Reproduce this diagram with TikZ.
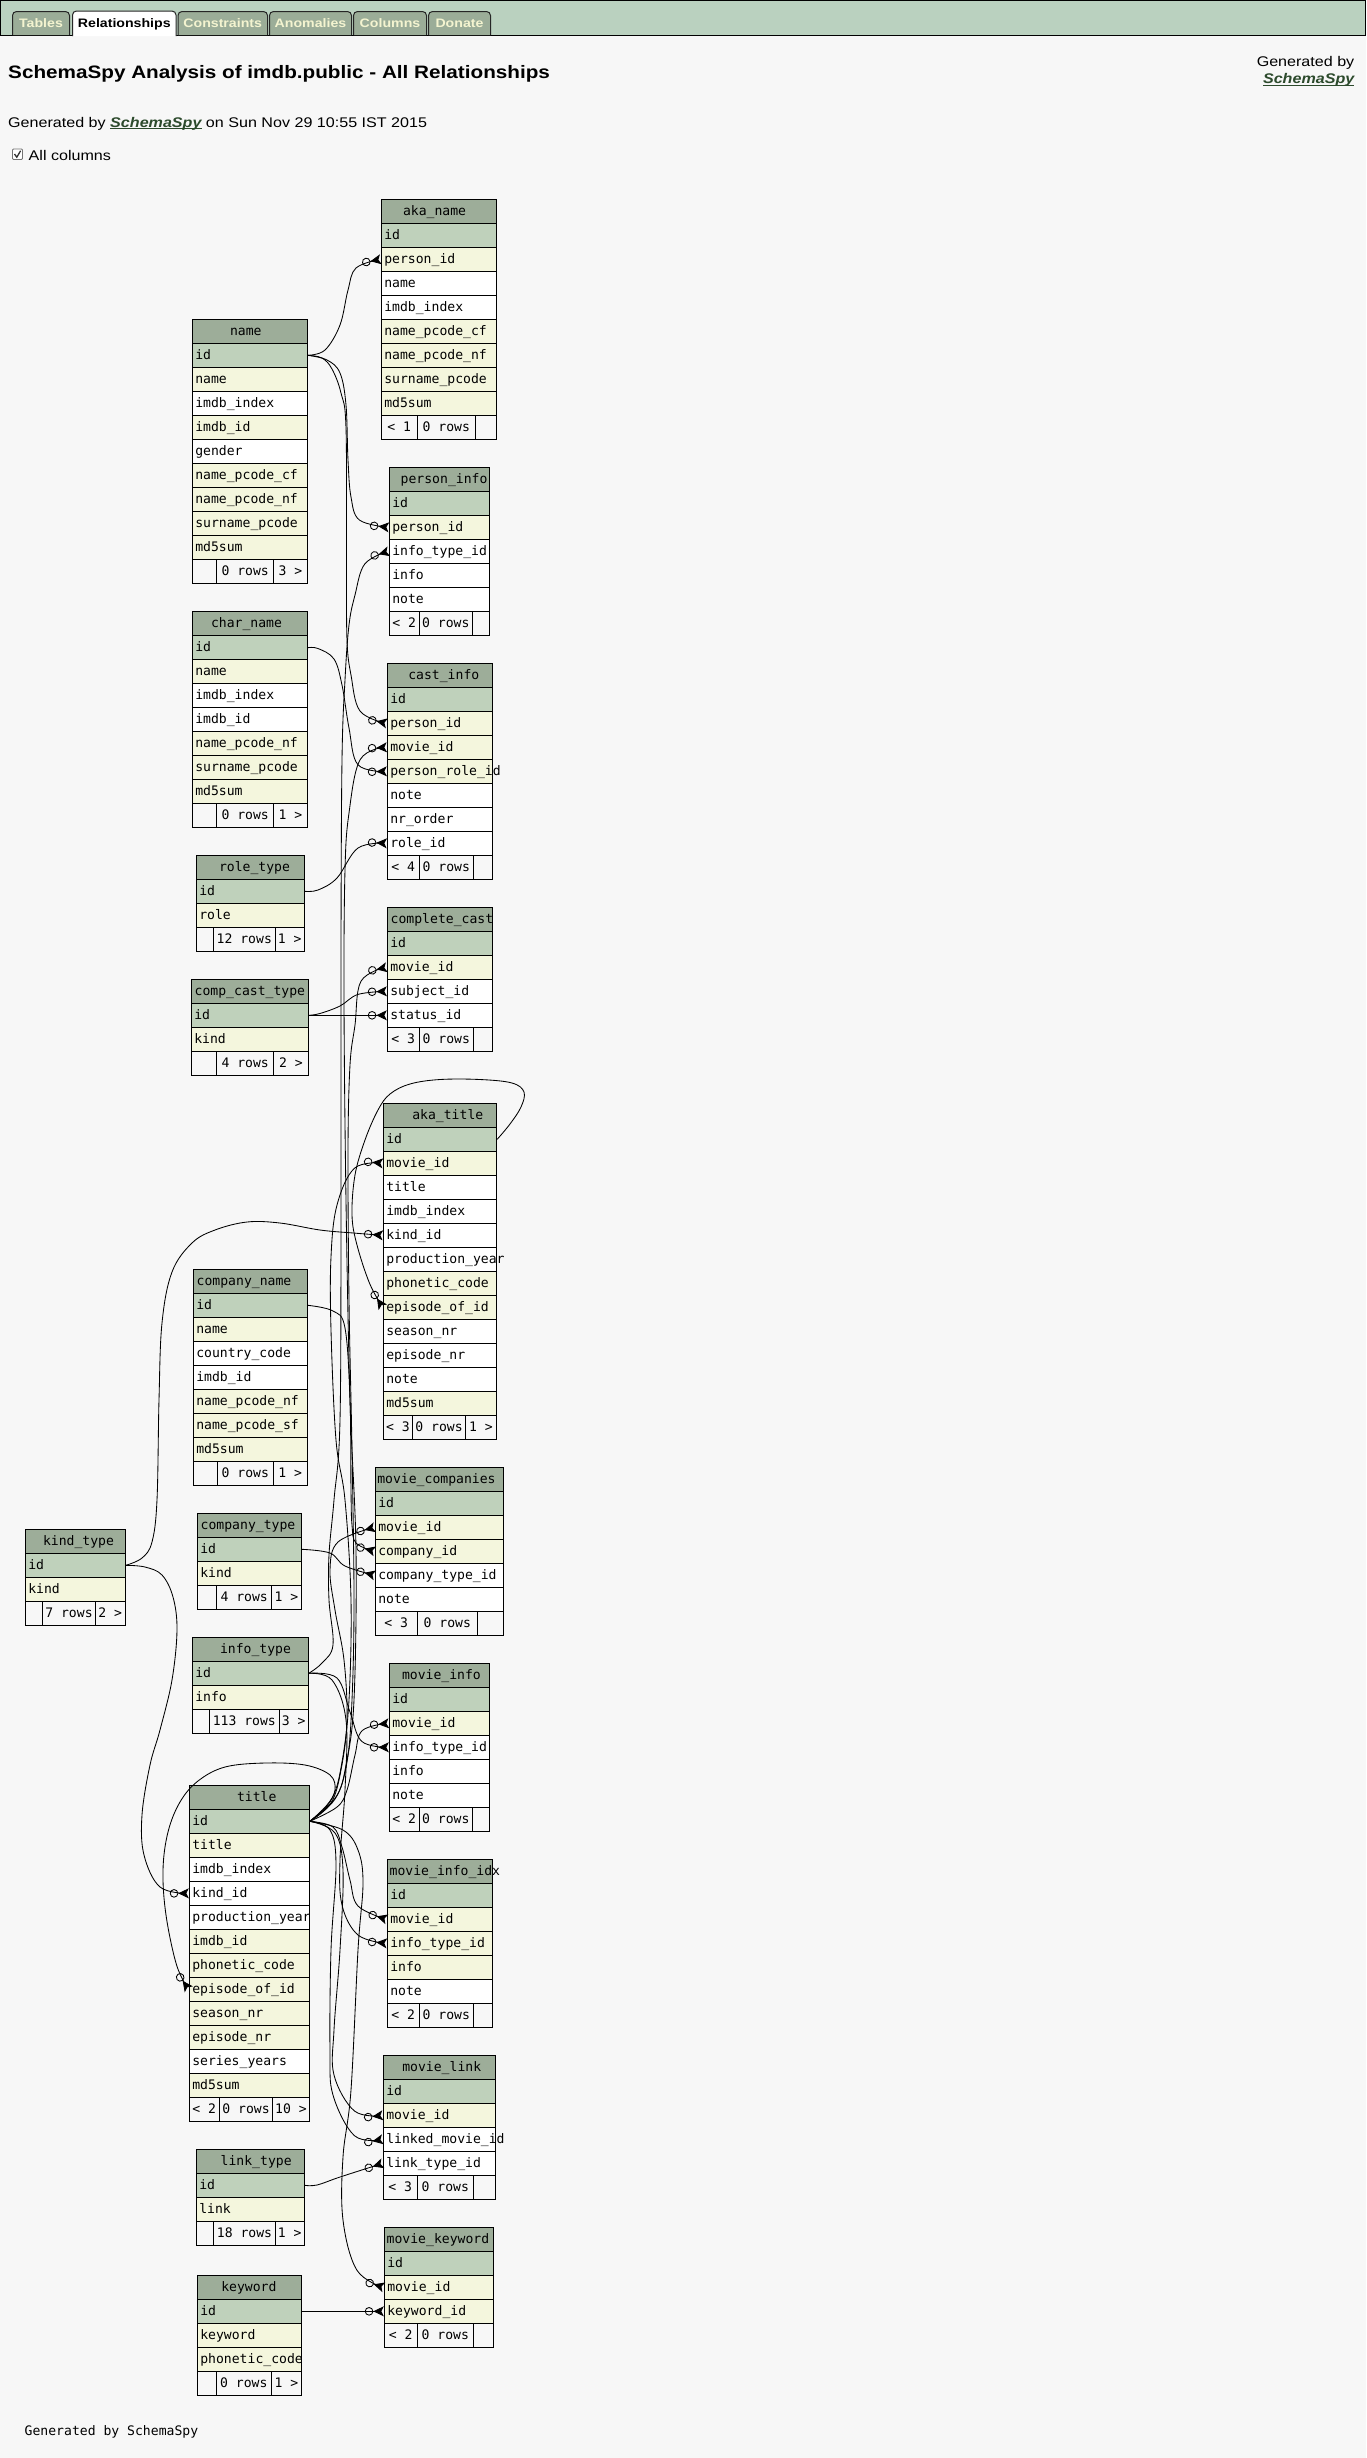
\documentclass[tikz,border=0pt]{standalone}
\usepackage{fontspec}
\setmainfont{Liberation Sans}[FakeStretch=1.15]
\newfontfamily\tblfont{DejaVu Sans Mono}
\usetikzlibrary{arrows.meta}

\definecolor{pagebg}{HTML}{F7F7F7}
\definecolor{barbg}{HTML}{BAD1BF}
\definecolor{tabbg}{HTML}{9BAD98}
\definecolor{tabtext}{HTML}{F4F4D0}
\definecolor{hdrbg}{HTML}{9DAD99}
\definecolor{pkbg}{HTML}{BFD1BB}
\definecolor{fkbg}{HTML}{F4F6DD}
\definecolor{plainbg}{HTML}{FFFFFF}
\definecolor{linkgreen}{HTML}{2C4A2C}

% underlined bold-italic link text
\newcommand\ulink[1]{{\color{linkgreen}\bfseries\itshape\setbox0=\hbox{#1}\rlap{\rule[-2.2pt]{\wd0}{1pt}}\box0}}

\tikzset{
  cell/.style={draw=black, line width=1pt, inner sep=0pt, minimum height=24pt,
    text height=10pt, text depth=2pt, font=\tblfont\fontsize{13.1pt}{15pt}\selectfont},
  rel/.style={line width=0.85pt, black,
    -{Circle[open,length=8.5pt,width=8.5pt] Stealth[reversed,length=10.5pt,width=10pt,inset=2.5pt]}},
  tabshape/.style={draw=black!85, line width=1pt, fill=tabbg, rounded corners=4pt},
  tablabel/.style={anchor=base, inner sep=0pt, font=\fontsize{12.3pt}{14pt}\selectfont\bfseries, text=tabtext},
  pagetext/.style={inner sep=0pt, font=\fontsize{14pt}{17pt}\selectfont},
}

% table: key, left, top, width, header text offset, header, rows (key/colour/text)
\newcommand\dbtable[7]{%
  \node[cell, fill=hdrbg, minimum width=#4pt] (#1) at ({#2+#4/2},{#3+12})
    {\makebox[#4pt][l]{\hspace{#5pt}#6}};
  \foreach \rk/\rc/\rt [count=\ri] in {#7} {
    \node[cell, fill=\rc, minimum width=#4pt] (#1-\rk) at ({#2+#4/2},{#3+12+24*\ri})
      {\makebox[#4pt][l]{\hspace{3pt}\rt}};
  }%
}
% footer row: key, left, top, right, split 1, split 2, three texts
\newcommand\dbfoot[9]{%
  \node[cell, minimum width={(#5-#2)*1pt}] (#1-fa) at ({(#2+#5)/2},{#3+12}) {#7};
  \node[cell, minimum width={(#6-#5)*1pt}] (#1-fb) at ({(#5+#6)/2},{#3+12}) {#8};
  \node[cell, minimum width={(#4-#6)*1pt}] (#1-fc) at ({(#6+#4)/2},{#3+12}) {#9};
}

\begin{document}
\begin{tikzpicture}[x=1pt, y=-1pt]
\useasboundingbox (0,0) rectangle (1366,2458);
\fill[pagebg] (0,0) rectangle (1366,2458);

% ---------- navigation bar ----------
\fill[barbg] (0,0) rectangle (1366,35);
\draw[line width=1pt] (0.5,35) -- (0.5,0.5) -- (1365.5,0.5) -- (1365.5,35);
\draw[line width=1pt] (0,35) -- (1366,35);
\path[tabshape] (12.5,35) -- (12.5,11.5) -- (69.5,11.5) -- (69.5,35);
\node[tablabel] (tab-tables) at (41,27.5) {Tables};
\path[tabshape, fill=white] (72.5,36) -- (72.5,11) -- (176,11) -- (176,36);
\node[tablabel, text=black] (tab-rel) at (124.3,27.5) {Relationships};
\path[tabshape] (178,35) -- (178,11.5) -- (267.5,11.5) -- (267.5,35);
\node[tablabel] (tab-con) at (222.7,27.5) {Constraints};
\path[tabshape] (269.5,35) -- (269.5,11.5) -- (351.5,11.5) -- (351.5,35);
\node[tablabel] (tab-ano) at (310.5,27.5) {Anomalies};
\path[tabshape] (353.5,35) -- (353.5,11.5) -- (426.5,11.5) -- (426.5,35);
\node[tablabel] (tab-col) at (390,27.5) {Columns};
\path[tabshape] (428.5,35) -- (428.5,11.5) -- (490.5,11.5) -- (490.5,35);
\node[tablabel] (tab-don) at (459.5,27.5) {Donate};

% ---------- page heading ----------
\node[anchor=base west, inner sep=0pt, font=\fontsize{18pt}{22pt}\selectfont\bfseries]
  (page-title) at (8,78) {SchemaSpy Analysis of imdb.public - All Relationships};
\node[pagetext, anchor=base east] (gen-right) at (1354.5,66) {Generated by};
\node[pagetext, anchor=base east] (gen-right-link) at (1354.5,83.5) {\ulink{SchemaSpy}};
\node[pagetext, anchor=base west] (gen-line) at (8,127)
  {Generated by \ulink{SchemaSpy} on Sun Nov 29 10:55 IST 2015};
\draw[fill=white, draw=black!55, line width=0.8pt, rounded corners=1pt] (12.5,149) rectangle (22.5,159.5);
\draw[line width=1.3pt, black!80] (14.5,154) -- (16.8,157.2) -- (20.6,150.8);
\node[pagetext, anchor=base west] (allcols) at (28.5,160) {All columns};

% ---------- tables ----------
\dbtable{akaname}{381.3}{199.3}{115.4}{21.7}{aka\_name}{id/pkbg/id, pid/fkbg/person\_id, name/plainbg/name, idx/plainbg/imdb\_index, pcf/fkbg/name\_pcode\_cf, pnf/fkbg/name\_pcode\_nf, spc/fkbg/surname\_pcode, md5/fkbg/md5sum}
\dbfoot{akaname}{381.3}{415.3}{496.7}{417.3}{475.3}{< 1}{0 rows}{}

\dbtable{name}{192.3}{319.3}{115}{37.7}{name}{id/pkbg/id, name/fkbg/name, idx/plainbg/imdb\_index, iid/fkbg/imdb\_id, gender/plainbg/gender, pcf/fkbg/name\_pcode\_cf, pnf/fkbg/name\_pcode\_nf, spc/fkbg/surname\_pcode, md5/fkbg/md5sum}
\dbfoot{name}{192.3}{559.3}{307.3}{216.7}{273.7}{}{0 rows}{3 >}

\dbtable{pinfo}{389.3}{467.3}{100}{11.4}{person\_info}{id/pkbg/id, pid/fkbg/person\_id, itid/plainbg/info\_type\_id, info/plainbg/info, note/plainbg/note}
\dbfoot{pinfo}{389.3}{611.3}{489.3}{419.3}{472.3}{< 2}{0 rows}{}

\dbtable{char}{192.3}{611.7}{115}{18.7}{char\_name}{id/pkbg/id, name/fkbg/name, idx/plainbg/imdb\_index, iid/plainbg/imdb\_id, pnf/fkbg/name\_pcode\_nf, spc/fkbg/surname\_pcode, md5/fkbg/md5sum}
\dbfoot{char}{192.3}{803.7}{307.3}{216.7}{273.7}{}{0 rows}{1 >}

\dbtable{cast}{387.3}{663.3}{105}{21}{cast\_info}{id/pkbg/id, pid/fkbg/person\_id, mid/fkbg/movie\_id, prid/fkbg/person\_role\_id, note/plainbg/note, nro/plainbg/nr\_order, rid/plainbg/role\_id}
\dbfoot{cast}{387.3}{855.3}{492.3}{419.3}{473.3}{< 4}{0 rows}{}

\dbtable{rtype}{196.3}{855.3}{108}{22.7}{role\_type}{id/pkbg/id, role/fkbg/role}
\dbfoot{rtype}{196.3}{927.3}{304.3}{213.3}{275.3}{}{12 rows}{1 >}

\dbtable{cc}{387.3}{907.3}{105}{3.4}{complete\_cast}{id/pkbg/id, mid/fkbg/movie\_id, sid/plainbg/subject\_id, stid/plainbg/status\_id}
\dbfoot{cc}{387.3}{1027.3}{492.3}{419.3}{473.3}{< 3}{0 rows}{}

\dbtable{cct}{191.3}{979.3}{117}{3.4}{comp\_cast\_type}{id/pkbg/id, kind/fkbg/kind}
\dbfoot{cct}{191.3}{1051.3}{308.3}{216.7}{273.7}{}{4 rows}{2 >}

\dbtable{akat}{383.3}{1103.3}{113.4}{29}{aka\_title}{id/pkbg/id, mid/fkbg/movie\_id, title/plainbg/title, idx/plainbg/imdb\_index, kid/plainbg/kind\_id, py/plainbg/production\_year, pc/fkbg/phonetic\_code, epid/fkbg/episode\_of\_id, snr/plainbg/season\_nr, enr/plainbg/episode\_nr, note/plainbg/note, md5/fkbg/md5sum}
\dbfoot{akat}{383.3}{1415.3}{496.7}{412.7}{465.3}{< 3}{0 rows}{1 >}

\dbtable{cname}{193.3}{1269.3}{114}{3.4}{company\_name}{id/pkbg/id, name/fkbg/name, cc/plainbg/country\_code, iid/plainbg/imdb\_id, pnf/fkbg/name\_pcode\_nf, psf/fkbg/name\_pcode\_sf, md5/fkbg/md5sum}
\dbfoot{cname}{193.3}{1461.3}{307.3}{217.3}{273.3}{}{0 rows}{1 >}

\dbtable{ktype}{25.3}{1529.3}{100}{17.7}{kind\_type}{id/pkbg/id, kind/fkbg/kind}
\dbfoot{ktype}{25.3}{1601.3}{125.3}{42.7}{95.3}{}{7 rows}{2 >}

\dbtable{ctype}{197.3}{1513.3}{104}{3.4}{company\_type}{id/pkbg/id, kind/fkbg/kind}
\dbfoot{ctype}{197.3}{1585.3}{301.3}{216.7}{271.7}{}{4 rows}{1 >}

\dbtable{mc}{375.3}{1467.3}{128}{2}{movie\_companies}{id/pkbg/id, mid/fkbg/movie\_id, cid/fkbg/company\_id, ctid/plainbg/company\_type\_id, note/plainbg/note}
\dbfoot{mc}{375.3}{1611.3}{503.3}{417.3}{477.3}{< 3}{0 rows}{}

\dbtable{itype}{192.3}{1637.3}{116}{27.7}{info\_type}{id/pkbg/id, info/fkbg/info}
\dbfoot{itype}{192.3}{1709.3}{308.3}{209.3}{279.3}{}{113 rows}{3 >}

\dbtable{mi}{389.3}{1663.3}{100}{12.7}{movie\_info}{id/pkbg/id, mid/fkbg/movie\_id, itid/plainbg/info\_type\_id, info/plainbg/info, note/plainbg/note}
\dbfoot{mi}{389.3}{1807.3}{489.3}{419.3}{472.3}{< 2}{0 rows}{}

\dbtable{title}{189.3}{1785.3}{120}{47.7}{title}{id/pkbg/id, title/fkbg/title, idx/plainbg/imdb\_index, kid/plainbg/kind\_id, py/plainbg/production\_year, iid/fkbg/imdb\_id, pc/fkbg/phonetic\_code, epid/fkbg/episode\_of\_id, snr/fkbg/season\_nr, enr/fkbg/episode\_nr, sy/plainbg/series\_years, md5/fkbg/md5sum}
\dbfoot{title}{189.3}{2097.3}{309.3}{219.3}{272.7}{< 2}{0 rows}{10 >}

\dbtable{mii}{387.3}{1859.3}{105}{2.4}{movie\_info\_idx}{id/pkbg/id, mid/fkbg/movie\_id, itid/fkbg/info\_type\_id, info/fkbg/info, note/plainbg/note}
\dbfoot{mii}{387.3}{2003.3}{492.3}{419.3}{473.3}{< 2}{0 rows}{}

\dbtable{ml}{383.3}{2055.3}{112}{19}{movie\_link}{id/pkbg/id, mid/fkbg/movie\_id, lmid/plainbg/linked\_movie\_id, ltid/plainbg/link\_type\_id}
\dbfoot{ml}{383.3}{2175.3}{495.3}{417.3}{473.3}{< 3}{0 rows}{}

\dbtable{ltype}{196.3}{2149.3}{108}{24.4}{link\_type}{id/pkbg/id, link/fkbg/link}
\dbfoot{ltype}{196.3}{2221.3}{304.3}{213.7}{275.3}{}{18 rows}{1 >}

\dbtable{mk}{384.3}{2227.3}{109}{2.4}{movie\_keyword}{id/pkbg/id, mid/fkbg/movie\_id, kwid/fkbg/keyword\_id}
\dbfoot{mk}{384.3}{2323.3}{493.3}{417.3}{473.3}{< 2}{0 rows}{}

\dbtable{kw}{197.3}{2275.3}{104.4}{24}{keyword}{id/pkbg/id, kw/fkbg/keyword, pc/fkbg/phonetic\_code}
\dbfoot{kw}{197.3}{2371.3}{301.7}{216.3}{271.3}{}{0 rows}{1 >}

% ---------- relationships ----------
\begin{scope}[smooth, tension=0.6]
% name
\draw[rel] plot coordinates {(name-id.east) (325,350) (340,325) (348,290) (356,268) (akaname-pid.west)};
\draw[rel] plot coordinates {(name-id.east) (327,360) (340,373) (346,405) (348,460) (351,497) (359.4,520) (pinfo-pid.west)};
\draw[rel] plot coordinates {(name-id.east) (322,358) (332,369) (341,393) (346,428) (346.5,560) (347,640) (351,675) (360,711) (cast-pid.west)};
% info_type
\draw[rel] plot coordinates {(itype-id.east) (322,1663) (333,1645) (329,1600) (329,1555) (334,1500) (340,1420) (341,1200) (341,950) (342,760) (345,680) (349,625) (355,595) (364.8,563.9) (pinfo-itid.west)};
\draw[rel] plot coordinates {(itype-id.east) (337,1678) (350,1712) (361.8,1741.4) (mi-itid.west)};
\draw[rel] plot coordinates {(itype-id.east) (332,1680) (346,1720) (345,1790) (340,1860) (342,1905) (358,1935) (mii-itid.west)};
% char_name, role_type, comp_cast_type
\draw[rel] plot coordinates {(char-id.east) (318,648.5) (334,659) (342,685) (349,728) (358,764.8) (cast-prid.west)};
\draw[rel] plot coordinates {(rtype-id.east) (318,890) (337,878) (358,848) (cast-rid.west)};
\draw[rel] plot coordinates {(cct-id.east) (320,1013.5) (340,1006) (358,994.4) (cc-sid.west)};
\draw[rel] (cct-id.east) -- (cc-stid.west);
% title
\draw[rel] plot coordinates {(title-id.east) (336,1797) (346,1765) (354,1700) (356,1550) (350,1400) (346,1200) (344,1000) (345,870) (349,813) (360.3,759.4) (cast-mid.west)};
\draw[rel] plot coordinates {(title-id.east) (335,1799) (347,1762) (352,1700) (354,1600) (352,1450) (349,1300) (348,1150) (350,1065) (355,1025) (361,981.2) (cc-mid.west)};
\draw[rel] plot coordinates {(title-id.east) (332,1798) (342,1762) (349,1700) (351,1600) (345,1500) (336,1440) (331,1330) (331,1257) (337,1205) (354.5,1168.2) (akat-mid.west)};
\draw[rel] plot coordinates {(title-id.east) (331,1803) (341,1770) (347,1720) (344,1660) (335,1610) (330,1570) (338,1542) (mc-mid.west)};
\draw[rel] plot coordinates {(title-id.east) (337,1807) (347,1790) (355,1755) (362.3,1730.5) (mi-mid.west)};
\draw[rel] plot coordinates {(title-id.east) (333,1827) (342,1847) (350,1880) (358,1906) (mii-mid.west)};
\draw[rel] plot coordinates {(title-id.east) (335,1833) (343,1870) (340,1950) (334,2030) (334,2075) (354.5,2111) (ml-mid.west)};
\draw[rel] plot coordinates {(title-id.east) (330,1830) (336,1865) (331,1950) (330,2050) (333,2095) (354.5,2135.7) (ml-lmid.west)};
\draw[rel] plot coordinates {(title-id.east) (343,1830) (358,1850) (363,1883) (358,1950) (351,2090) (343,2157) (343,2220) (356.8,2270) (mk-mid.west)};
\draw[rel] plot coordinates {(title-id.east) (327,1806) (335,1790) (330,1775) (305,1765) (265,1763) (225,1767) (198,1781) (180,1802) (168,1832) (163,1870) (166,1915) (176.7,1965.4) (title-epid.west)};
% aka_title self reference
\draw[rel] plot coordinates {(akat-id.east) (510,1124) (521,1107) (524,1092) (512,1083) (480,1079.5) (440,1079.5) (410,1084) (390,1094) (378,1110) (365,1140) (355,1175) (352,1215) (357,1245) (369.6,1283.4) (akat-epid.west)};
% kind_type
\draw[rel] plot coordinates {(ktype-id.east) (142,1558) (152,1542) (157,1500) (159,1400) (162,1323) (172,1272) (192,1243) (215,1230) (247,1222) (280,1223) (320,1230) (353.4,1233) (akat-kid.west)};
\draw[rel] plot coordinates {(ktype-id.east) (145,1567) (162,1575) (173,1597) (177,1630) (172,1680) (160,1730) (150,1765) (142,1815) (144,1855) (160,1887) (title-kid.west)};
% companies
\draw[rel] plot coordinates {(cname-id.east) (333,1311) (345,1328) (350,1400) (351,1490) (352,1525) (356,1543) (mc-cid.west)};
\draw[rel] plot coordinates {(ctype-id.east) (330,1553) (345,1566) (mc-ctid.west)};
% link_type, keyword
\draw[rel] plot coordinates {(ltype-id.east) (317,2185) (340,2177) (ml-ltid.west)};
\draw[rel] (kw-id.east) -- (mk-kwid.west);
\end{scope}

% ---------- page footer ----------
\node[anchor=base west, inner sep=0pt, font=\tblfont\fontsize{13.1pt}{15pt}\selectfont]
  (page-footer) at (24.5,2435.5) {Generated by SchemaSpy};
\end{tikzpicture}
\end{document}
